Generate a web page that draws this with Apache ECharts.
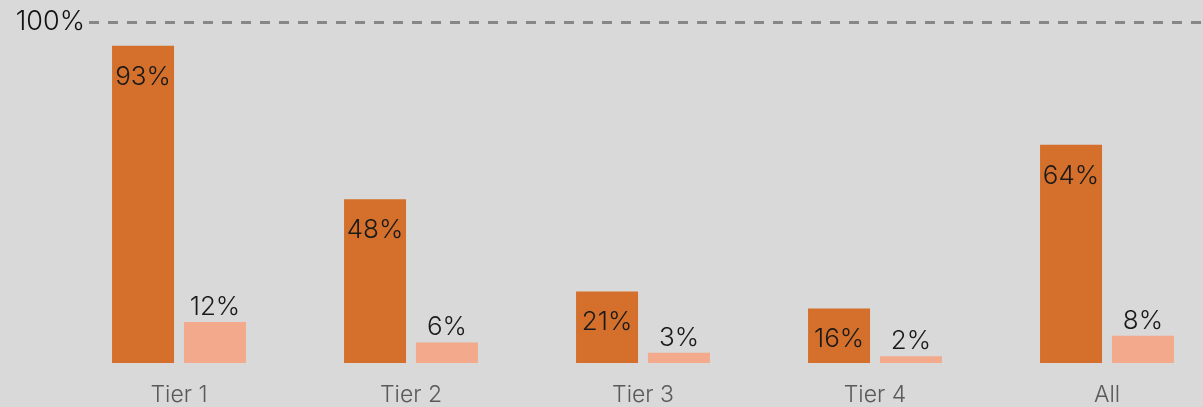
<!DOCTYPE html>
<html>
<head>
<meta charset="utf-8">
<script src="https://cdn.jsdelivr.net/npm/echarts@6/dist/echarts.min.js"></script>
<style>
  html, body { margin: 0; padding: 0; background: #d9d9d9; }
  #chart { width: 1203px; height: 407px; }
</style>
</head>
<body>
<div id="chart"></div>
<script>
// Chart data
const categories = ['Tier 1', 'Tier 2', 'Tier 3', 'Tier 4', 'All'];
const mainValues = [93, 48, 21, 16, 64];
const subValues = [12, 6, 3, 2, 8];
const refValue = 100;

const chart = echarts.init(document.getElementById('chart'));
const font = 'Inter';

let option = {
    backgroundColor: '#d9d9d9',
    animation: false,
    grid: { left: 63, width: 1160, top: 22, height: 341, outerBoundsMode: 'none' },
    xAxis: {
        type: 'category',
        data: categories,
        axisLine: { show: false },
        axisTick: { show: false },
        axisLabel: { color: '#5a5a5a', fontSize: 23, fontWeight: 300, fontFamily: font, margin: 21 }
    },
    yAxis: {
        type: 'value',
        min: 0,
        max: 100,
        interval: 100,
        offset: -25,
        splitLine: { show: false },
        axisLine: { show: false },
        axisTick: { show: false },
        axisLabel: {
            color: '#111',
            fontSize: 27,
            fontWeight: 300,
            fontFamily: font,
            margin: 3,
            formatter: function (v) { return v === 100 ? '100%' : ''; }
        }
    },
    series: [
        {
            type: 'bar',
            data: mainValues,
            barWidth: 62,
            barGap: '16%',
            itemStyle: { color: '#d4702b' },
            label: {
                show: true,
                position: 'insideTop',
                distance: 18,
                color: '#1a1a1a',
                fontSize: 26,
                fontWeight: 300,
                fontFamily: font,
                formatter: '{c}%'
            },
            markLine: {
                silent: true,
                symbol: 'none',
                label: { show: false },
                lineStyle: { color: '#878787', width: 3, type: [10, 9] },
                data: [[{ x: 89, yAxis: refValue }, { x: 1203, yAxis: refValue }]]
            }
        },
        {
            type: 'bar',
            data: subValues,
            barWidth: 62,
            itemStyle: { color: '#f2a98c' },
            label: {
                show: true,
                position: 'top',
                distance: 2,
                color: '#1a1a1a',
                fontSize: 26,
                fontWeight: 300,
                fontFamily: font,
                formatter: '{c}%'
            }
        }
    ]
};
chart.setOption(option);
</script>
</body>
</html>
